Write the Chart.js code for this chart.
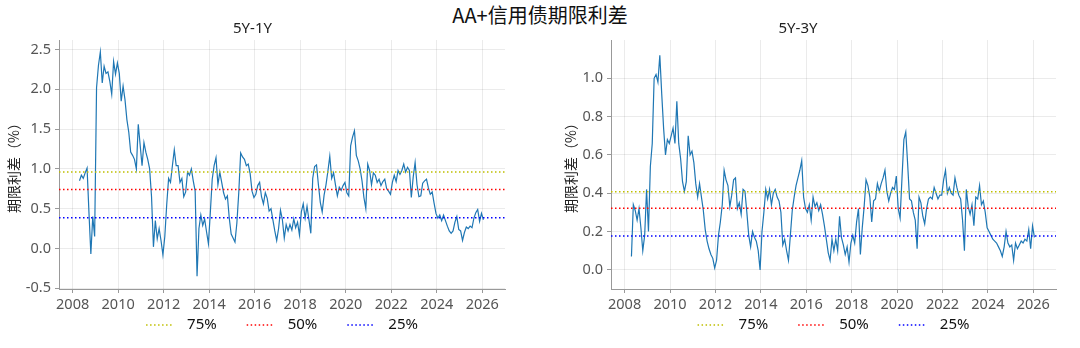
<!DOCTYPE html>
<html lang="zh-CN">
<head>
<meta charset="UTF-8">
<title>AA+信用债期限利差</title>
<script src="https://cdn.jsdelivr.net/npm/chart.js@4.4.1/dist/chart.umd.min.js"></script>
<style>
    html, body { margin: 0; padding: 0; background: #fff; }
    body {
        width: 1080px; height: 348px; position: relative; overflow: hidden;
        font-family: "Noto Sans CJK SC", "Noto Sans", sans-serif;
    }
    #mainTitle {
        position: absolute; left: 0; top: 2px; width: 1080px;
        text-align: center; font-size: 20px; line-height: 26px; color: #111;
    }
    .panel { position: absolute; top: 0; width: 540px; height: 348px; }
    #left { left: 0; }
    #right { left: 540px; }
</style>
</head>
<body>
<div id="mainTitle">AA+信用债期限利差</div>
<div class="panel" id="left"><canvas id="chart1y" width="540" height="348"></canvas></div>
<div class="panel" id="right"><canvas id="chart3y" width="540" height="348"></canvas></div>

<script>
// 月度观测：首个点 2008 年 4 月前后，每月一个读数
const startYear = 2008.3;
const stepYears = 1 / 12;

// 5Y-1Y 期限利差（%）
const spread5y1y = [
    0.85, 0.92, 0.88, 0.95, 1.01, 0.45, -0.07, 0.40, 0.15,
    2.02, 2.30, 2.47, 2.08, 2.29, 2.20, 2.22, 2.10, 1.94, 2.35, 2.19, 2.33,
    2.20, 1.85, 2.04, 1.87, 1.62, 1.46, 1.21, 1.17, 1.12, 1.00, 1.56, 1.30,
    1.04, 1.33, 1.21, 1.12, 1.00, 0.65, 0.02, 0.35, 0.12, 0.25, 0.10, -0.08,
    0.15, 0.55, 0.88, 0.83, 1.04, 1.24, 1.04, 1.04, 0.83, 0.88, 0.65, 0.71,
    0.96, 0.92, 1.00, 0.85, 0.72, -0.35, 0.25, 0.42, 0.29, 0.37, 0.21, 0.06,
    0.45, 0.87, 1.04, 1.14, 0.80, 0.96, 0.83, 0.70, 0.62, 0.66, 0.38, 0.18,
    0.13, 0.08, 0.32, 0.70, 1.20, 1.15, 1.12, 1.04, 1.06, 0.94, 0.72, 0.64,
    0.68, 0.79, 0.83, 0.65, 0.56, 0.70, 0.63, 0.47, 0.50, 0.36, 0.22, 0.10,
    0.25, 0.48, 0.36, 0.13, 0.30, 0.22, 0.30, 0.23, 0.37, 0.26, 0.33, 0.17,
    0.46, 0.56, 0.38, 0.53, 0.36, 0.19, 0.88, 1.03, 1.05, 0.80, 0.58, 0.46,
    0.67, 0.80, 0.97, 1.16, 0.88, 0.95, 0.80, 0.66, 0.77, 0.73, 0.79, 0.83,
    0.70, 0.66, 1.29, 1.40, 1.48, 1.17, 1.10, 1.00, 0.85, 0.64, 0.50, 1.06,
    0.98, 0.80, 0.95, 0.92, 0.83, 0.87, 0.79, 0.84, 0.87, 0.75, 0.72, 0.68,
    0.83, 0.92, 0.84, 0.98, 0.93, 0.98, 1.06, 0.96, 1.02, 0.98, 0.64, 0.90,
    1.08, 0.80, 0.65, 0.66, 0.82, 0.85, 0.87, 0.76, 0.68, 0.71, 0.57, 0.44,
    0.38, 0.42, 0.35, 0.42, 0.35, 0.28, 0.22, 0.19, 0.22, 0.33, 0.40, 0.24,
    0.22, 0.10, 0.20, 0.27, 0.25, 0.28, 0.26, 0.38, 0.45, 0.49, 0.34, 0.44,
    0.36
];

// 5Y-3Y 期限利差（%）
const spread5y3y = [
    0.07, 0.34, 0.31, 0.26, 0.32, 0.22, 0.10, 0.18, 0.42,
    0.20, 0.54, 0.66, 1.00, 1.02, 0.98, 1.12, 0.92, 0.74, 0.60, 0.68, 0.66,
    0.70, 0.74, 0.66, 0.88, 0.66, 0.58, 0.46, 0.41, 0.46, 0.70, 0.60, 0.62,
    0.56, 0.45, 0.38, 0.45, 0.38, 0.31, 0.21, 0.15, 0.11, 0.08, 0.06, 0.01,
    0.05, 0.18, 0.25, 0.34, 0.52, 0.47, 0.44, 0.33, 0.39, 0.47, 0.48, 0.32,
    0.35, 0.29, 0.42, 0.41, 0.30, 0.18, 0.12, 0.20, 0.17, 0.15, 0.10, 0.00,
    0.20, 0.30, 0.42, 0.37, 0.42, 0.34, 0.40, 0.42, 0.38, 0.36, 0.30, 0.13,
    0.16, 0.10, 0.05, 0.18, 0.31, 0.38, 0.44, 0.48, 0.52, 0.57, 0.38, 0.32,
    0.30, 0.34, 0.26, 0.38, 0.33, 0.35, 0.31, 0.34, 0.29, 0.23, 0.16, 0.09,
    0.05, 0.16, 0.10, 0.16, 0.10, 0.28, 0.17, 0.13, 0.08, 0.12, 0.04, 0.14,
    0.18, 0.14, 0.25, 0.32, 0.08, 0.22, 0.33, 0.47, 0.44, 0.38, 0.25, 0.36,
    0.37, 0.45, 0.41, 0.45, 0.48, 0.52, 0.41, 0.36, 0.40, 0.43, 0.42, 0.49,
    0.32, 0.27, 0.48, 0.68, 0.72, 0.55, 0.37, 0.36, 0.30, 0.26, 0.11, 0.38,
    0.35, 0.28, 0.24, 0.32, 0.37, 0.38, 0.37, 0.43, 0.40, 0.37, 0.39, 0.39,
    0.47, 0.52, 0.40, 0.43, 0.40, 0.39, 0.48, 0.43, 0.39, 0.37, 0.26, 0.10,
    0.42, 0.33, 0.29, 0.34, 0.23, 0.38, 0.37, 0.44, 0.34, 0.36, 0.30, 0.22,
    0.20, 0.18, 0.16, 0.15, 0.14, 0.12, 0.10, 0.07, 0.12, 0.20, 0.14, 0.12,
    0.13, 0.05, 0.14, 0.11, 0.13, 0.15, 0.14, 0.16, 0.15, 0.21, 0.11, 0.23,
    0.17
];

// 历史分位数
const quantileLabels = ['75%', '50%', '25%'];
const quantiles5y1y = [0.96, 0.74, 0.385];
const quantiles5y3y = [0.408, 0.322, 0.177];
const quantileColors = ['#bfbf00', '#ff0000', '#0000ff'];

// 刻度
const yearTicks = [2008, 2010, 2012, 2014, 2016, 2018, 2020, 2022, 2024, 2026];
const ticks5y1y = [-0.5, 0, 0.5, 1.0, 1.5, 2.0, 2.5];
const ticks5y3y = [0, 0.2, 0.4, 0.6, 0.8, 1.0];

const xMin = 2007.4;
const xMax = 2027.0;
const latinFont = '"Noto Sans", "Noto Sans CJK SC", sans-serif';
const cjkFont = '"Noto Sans CJK SC", "Noto Sans", sans-serif';

Chart.defaults.font.family = latinFont;
Chart.defaults.animation = false;

// 底部图例：点线样例 + 文字
const dottedLegend = {
    id: 'dottedLegend',
    afterDraw(chart) {
        const items = chart.data.datasets.filter(d => d.inLegend);
        const ctx = chart.ctx;
        const sample = 28, gap = 13, spacing = 30;
        ctx.save();
        ctx.font = '15px ' + latinFont;
        const widths = items.map(d => sample + gap + ctx.measureText(d.label).width);
        const total = widths.reduce((a, b) => a + b, 0) + spacing * (items.length - 1);
        let x = (chart.chartArea.left + chart.chartArea.right) / 2 - total / 2;
        const y = chart.height - 23;
        items.forEach((d, k) => {
            ctx.strokeStyle = d.borderColor;
            ctx.lineWidth = d.borderWidth;
            ctx.setLineDash(d.borderDash);
            ctx.beginPath();
            ctx.moveTo(x, y);
            ctx.lineTo(x + sample, y);
            ctx.stroke();
            ctx.setLineDash([]);
            ctx.fillStyle = '#111';
            ctx.textAlign = 'left';
            ctx.textBaseline = 'middle';
            ctx.fillText(d.label, x + sample + gap, y);
            x += widths[k] + spacing;
        });
        ctx.restore();
    }
};

function makeChart(canvasId, opts) {
    const series = opts.values.map((v, i) => ({ x: startYear + i * stepYears, y: v }));

    const quantileSets = opts.quantiles.map((q, k) => ({
        label: quantileLabels[k],
        data: [{ x: xMin, y: q }, { x: xMax, y: q }],
        borderColor: quantileColors[k],
        borderWidth: 1.5,
        borderDash: [1.5, 2.5],
        pointRadius: 0,
        inLegend: true
    }));

    return new Chart(document.getElementById(canvasId), {
        type: 'line',
        data: {
            datasets: [
                ...quantileSets,
                {
                    label: opts.title,
                    data: series,
                    borderColor: '#1f77b4',
                    borderWidth: 1.2,
                    pointRadius: 0,
                    tension: 0
                }
            ]
        },
        options: {
            responsive: false,
            devicePixelRatio: 1,
            layout: { padding: { top: 0, right: opts.padRight, bottom: 29, left: 0 } },
            plugins: {
                legend: { display: false },
                tooltip: { enabled: false },
                title: {
                    display: true,
                    text: opts.title,
                    color: '#222',
                    font: { size: 15, weight: 'normal' },
                    padding: { top: 20, bottom: 2 }
                }
            },
            scales: {
                x: {
                    type: 'linear',
                    min: xMin,
                    max: xMax,
                    afterBuildTicks: s => { s.ticks = yearTicks.map(v => ({ value: v })); },
                    afterFit: s => { s.height = 30; },
                    ticks: {
                        callback: v => String(v),
                        color: '#555',
                        font: { size: 14.5 },
                        padding: 3,
                        maxRotation: 0,
                        autoSkip: false
                    },
                    grid: { color: 'rgba(0,0,0,0.08)', tickLength: 4, tickColor: '#999' },
                    border: { color: '#999', width: 1 }
                },
                y: {
                    type: 'linear',
                    min: opts.yMin,
                    max: opts.yMax,
                    afterBuildTicks: s => { s.ticks = opts.yTicks.map(v => ({ value: v })); },
                    afterFit: s => { s.width = opts.axisWidth; },
                    ticks: {
                        callback: v => v.toFixed(1),
                        color: '#555',
                        font: { size: 14.5 },
                        padding: 4
                    },
                    grid: { color: 'rgba(0,0,0,0.08)', tickLength: 4, tickColor: '#999' },
                    border: { color: '#999', width: 1 },
                    title: {
                        display: true,
                        text: '期限利差（%）',
                        color: '#222',
                        font: { size: 14, family: cjkFont },
                        padding: { top: opts.labelPad, bottom: 0 }
                    }
                }
            }
        },
        plugins: [dottedLegend]
    });
}

makeChart('chart1y', {
    title: '5Y-1Y',
    values: spread5y1y,
    quantiles: quantiles5y1y,
    yMin: -0.51, yMax: 2.62,
    yTicks: ticks5y1y,
    axisWidth: 59,
    labelPad: 5,
    padRight: 35
});

makeChart('chart3y', {
    title: '5Y-3Y',
    values: spread5y3y,
    quantiles: quantiles5y3y,
    yMin: -0.1, yMax: 1.2,
    yTicks: ticks5y3y,
    axisWidth: 71,
    labelPad: 22,
    padRight: 24
});
</script>
</body>
</html>
